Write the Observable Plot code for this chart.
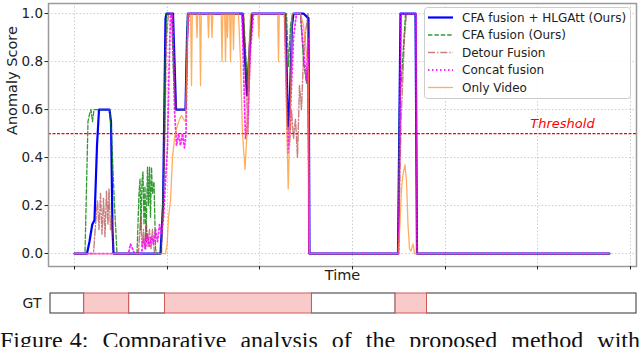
<!DOCTYPE html>
<html>
<head>
<meta charset="utf-8">
<script src="https://cdn.jsdelivr.net/npm/d3@7"></script>
<script src="https://cdn.jsdelivr.net/npm/@observablehq/plot@0.6"></script>
<style>
  html, body { margin: 0; padding: 0; background: #fff; }
  #wrap { position: relative; width: 640px; height: 347px; overflow: hidden; background: #fff; font-family: "DejaVu Sans", sans-serif; }
  #legend { position: absolute; left: 424px; top: 7px; }
  #caption { position: absolute; left: 0; top: 327px; width: 640px; font-family: "Liberation Serif", serif; font-size: 24px; line-height: 26px; text-align: justify; text-align-last: justify; white-space: nowrap; color: #111; }
</style>
</head>
<body>
<div id="wrap">
  <div id="main"></div>
  <div id="gt"></div>
  <svg id="legend" width="208" height="93"></svg>
  <div id="caption">Figure 4: &nbsp;Comparative &nbsp;analysis &nbsp;of &nbsp;the &nbsp;proposed &nbsp;method &nbsp;with</div>
</div>
<script>
// ---- Data (time in frames, score in [0,1]) ----
const xTicks = [0, 93, 185, 278, 371, 463, 556];
const yTicks = [0, 0.2, 0.4, 0.6, 0.8, 1.0];
const threshold = 0.5;
const thresholdLabel = {t: 488, text: "Threshold"};

const seriesNames = ["CFA fusion + HLGAtt (Ours)", "CFA fusion (Ours)", "Detour Fusion", "Concat fusion", "Only Video"];

const cfaHlgatt = [[0,0],[12.5,0],[15,0.05],[17.7,0.12],[20,0.14],[22.5,0.45],[24.5,0.6],[35,0.6],[36.5,0.55],[38,0.1],[39,0],
  [86,0],[88.5,0.2],[89.5,0.5],[91,0.98],[92,1],[98.5,1],[100,0.8],[101.5,0.6],[111,0.6],[112.5,0.9],[113.5,1],
  [168,1],[170,0.85],[172.5,0.66],[175,0.85],[177.5,1],[210.5,1],[212,0.8],[213.5,0.53],[215,0.6],[217.5,0.95],[219,1],
  [229,1],[234,0.98],[235,0],[323.5,0],[326,1],[341,1],[342.5,0],[535,0]];

const cfaFusion = [[0,0],[10.5,0],[13.5,0.55],[15,0.58],[16.5,0.6],[18,0.55],[19.5,0.6],[35,0.6],[37,0.5],[40,0.2],[42.5,0],
  [62.5,0],[64.5,0.25],[65.5,0.31],[66.5,0.1],[67.5,0.3],[68.5,0.34],[69.5,0.12],[70.5,0.28],[71.5,0.05],[73,0.36],[74,0.2],
  [75,0.36],[76,0.15],[77,0.36],[78,0.25],[79.5,0.3],[81,0.02],[82,0],
  [86.5,0],[89,0.3],[90.5,0.8],[92,1],[97,1],[99,0.75],[101,0.6],[111,0.6],[113,1],
  [169,1],[173,0.7],[177,1],[212,1],[214,0.78],[216,0.95],[218,1],[226,1],[229,0.8],[232,0.71],[233.5,0.85],[234.5,0],
  [323.5,0],[325,0.6],[331,1],[341,1],[342.5,0],[535,0]];

const detourFusion = [[0,0],[19,0],[21,0.12],[23,0.22],[24.5,0.1],[26,0.25],[27.5,0.08],[29,0.23],[30.5,0.07],[32,0.26],
  [33.5,0.12],[34.5,0.27],[36,0.1],[37.5,0.15],[39,0],
  [64,0],[66,0.15],[67.5,0.03],[69,0.1],[70.5,0.02],[72,0.12],[73.5,0.03],[75,0.1],[76.5,0.02],[78,0.1],[80,0],
  [87,0],[90,0.4],[92,0.9],[94,1],[98,1],[100.5,0.7],[102,0.6],[111,0.6],[113.5,1],
  [169,1],[172.5,0.62],[173.5,0.5],[176,0.9],[178,1],
  [211,1],[213,0.6],[215,0.45],[217,0.6],[219,0.48],[221,0.56],[223,0.4],[225,0.7],[227,0.6],[229,0.82],[231,0.92],[233.5,1],[234.5,0],
  [324,0],[326.5,0.55],[330,0.9],[332,1],[341,1],[342.5,0],[535,0]];

const concatFusion = [[0,0],[54,0],[56,0.04],[58,0.02],[60,0],[67,0],[69,0.06],[71,0.02],[73,0.08],[75,0.03],[77,0.07],
  [79,0.04],[81,0.1],[83,0.05],[85,0.12],[87,0.08],[89,0.15],[91,0.3],[93,0.45],[94.5,0.75],[96,1],[98,1],
  [100,0.6],[102,0.45],[104,0.5],[106,0.45],[108,0.5],[110,0.44],[111.5,0.5],[113,0.9],[114.5,1],
  [167.5,1],[169.5,0.7],[171,0.48],[173,0.55],[176,0.85],[179,1],
  [210,1],[212,0.65],[213.5,0.42],[215,0.5],[217,0.7],[219,0.9],[222,1],[226,1],[229,0.85],[232,0.72],[233.5,0.9],[234.5,0],
  [324,0],[326.5,1],[341.5,1],[342.5,0],[535,0]];

const onlyVideo = [[0,0],[91,0],[92.7,0.04],[94,0.15],[96,0.22],[98,0.4],[100,0.48],[102,0.52],[105,0.56],[107,0.575],
  [109,0.56],[111,0.55],[112.5,0.8],[113.5,1],
  [116.2,1],[117,0.7],[117.8,1],[121.7,1],[122.5,0.9],[123.3,1],[125.2,1],[126,0.7],[126.8,1],
  [133.2,1],[134,0.9],[134.8,1],[136.7,1],[137.5,0.9],[138.3,1],[146.7,1],[147.5,0.8],[148.3,1],
  [150.2,1],[151,0.8],[151.8,1],[152.4,1],[153,0.9],[153.6,1],[155.2,1],[156,0.8],[156.8,1],
  [158.2,1],[159,0.85],[159.8,1],
  [164,1],[166,0.8],[168,0.5],[170.5,0.35],[172.5,0.5],[174.5,0.85],[176,1],
  [183.5,1],[184.3,0.9],[185.1,1],[203.2,1],[204,0.8],[204.8,1],
  [210,1],[212,0.6],[213.7,0.27],[215.5,0.55],[217.5,1],
  [226,1],[229,0.95],[231.5,0.85],[233,0.8],[234,0.75],[235,0],
  [323.5,0],[325.5,0.12],[327,0.27],[328.5,0.33],[330.5,0.37],[332,0.3],[333.5,0.12],[335,0.02],[336.5,0.01],
  [338.5,0.04],[340,0],[535,0]];

// Ground truth segments: boundaries and labels (1 = anomaly)
const gtBounds = [-24, 9.7, 54.6, 90.5, 237.4, 321.1, 352.5, 562];
const gtLabels = [0, 1, 0, 1, 0, 1, 0];

// ---- Styles ----
const seriesData = [cfaHlgatt, cfaFusion, detourFusion, concatFusion, onlyVideo];
const seriesStyle = [
  {color: "#0000ff", width: 2.2, dash: null, opacity: 1},
  {color: "#008000", width: 1.3, dash: "4.4,2", opacity: 0.8},
  {color: "#a52a2a", width: 1.4, dash: "7,2,1.3,2", opacity: 0.6},
  {color: "#ff00ff", width: 1.8, dash: "1.5,2.5", opacity: 0.85},
  {color: "#ff8c1a", width: 1.3, dash: null, opacity: 0.7}
];

const rows = seriesData.flatMap((arr, i) => arr.map(([t, v]) => ({series: seriesNames[i], t, v})));

const xDomain = [-26, 562];
const yDomain = [-0.054, 1.042];
const gridStyle = {stroke: "#b8b8b8", strokeOpacity: 0.7, strokeDasharray: "1.5,2"};

const main = Plot.plot({
  width: 640, height: 283,
  marginTop: 3, marginRight: 4, marginBottom: 17, marginLeft: 48,
  style: {fontFamily: "DejaVu Sans", fontSize: "13px", display: "block", background: "white", color: "#222"},
  x: {domain: xDomain},
  y: {domain: yDomain},
  marks: [
    Plot.gridX(xTicks, gridStyle),
    Plot.gridY(yTicks, gridStyle),
    Plot.ruleY([threshold], {stroke: "#ff0000", strokeWidth: 1.3, strokeDasharray: "3,1.5", strokeOpacity: 1}),
    ...seriesNames.map((name, i) => Plot.line(rows.filter(d => d.series === name), {
      x: "t", y: "v",
      stroke: seriesStyle[i].color,
      strokeWidth: seriesStyle[i].width,
      strokeDasharray: seriesStyle[i].dash,
      strokeOpacity: seriesStyle[i].opacity
    })),
    Plot.text([thresholdLabel], {x: "t", y: () => threshold, text: "text", dy: -10, fill: "red", fontStyle: "italic", fontSize: 13}),
    Plot.frame({stroke: "#9a9a9a", strokeWidth: 1.5}),
    Plot.axisY(yTicks, {tickFormat: d3.format(".1f"), tickSize: 3.5, tickPadding: 2, fontSize: 13.5, label: null}),
    Plot.axisX(xTicks, {tickSize: 3.5, tickFormat: () => "", label: null}),
    Plot.text(["Anomaly Score"], {text: d => d, frameAnchor: "left", rotate: -90, dx: -36, fontSize: 14.5}),
    Plot.text(["Time"], {text: d => d, frameAnchor: "bottom", dy: 13, fontSize: 14.5})
  ]
});
document.getElementById("main").appendChild(main);

// ---- GT bar ----
const gtSegs = gtLabels.map((lab, i) => ({start: gtBounds[i], end: gtBounds[i + 1], lab}));
const gt = Plot.plot({
  width: 640, height: 40,
  marginTop: 10, marginBottom: 10, marginLeft: 48, marginRight: 4,
  style: {fontFamily: "DejaVu Sans", fontSize: "14px", display: "block", background: "white", color: "#222"},
  x: {domain: xDomain, axis: null},
  y: {domain: [0, 1], axis: null},
  marks: [
    Plot.rect(gtSegs.filter(d => d.lab === 0), {x1: "start", x2: "end", y1: 0, y2: 1, fill: "white", stroke: "#333", strokeWidth: 1}),
    Plot.rect(gtSegs.filter(d => d.lab === 1), {x1: "start", x2: "end", y1: 0, y2: 1, fill: "#f9caca", stroke: "#d05a5a", strokeWidth: 1}),
    Plot.text(["GT"], {text: d => d, frameAnchor: "left", textAnchor: "end", dx: -7, fontSize: 14})
  ]
});
document.getElementById("gt").appendChild(gt);

// ---- Legend ----
const leg = d3.select("#legend");
leg.append("rect").attr("x", 0.5).attr("y", 0.5).attr("width", 206).attr("height", 91).attr("rx", 3)
  .attr("fill", "white").attr("fill-opacity", 0.85).attr("stroke", "#cccccc");
seriesNames.forEach((name, i) => {
  const y = 10.5 + i * 17.5;
  const s = seriesStyle[i];
  leg.append("line").attr("x1", 4).attr("x2", 29).attr("y1", y).attr("y2", y)
    .attr("stroke", s.color).attr("stroke-width", s.width).attr("stroke-opacity", s.opacity)
    .attr("stroke-dasharray", s.dash);
  leg.append("text").attr("x", 38).attr("y", y).attr("dy", "0.35em")
    .attr("font-family", "DejaVu Sans").attr("font-size", 12).attr("fill", "#222").text(name);
});
</script>
</body>
</html>
